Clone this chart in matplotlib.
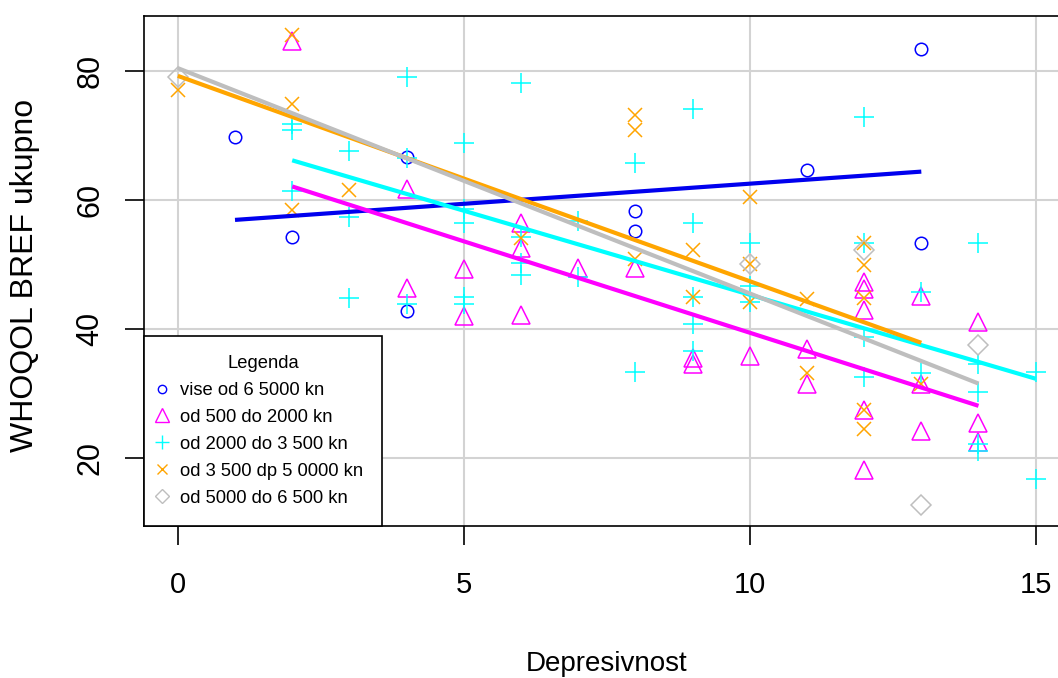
import matplotlib
matplotlib.use("Agg")
import matplotlib.pyplot as plt
from matplotlib.lines import Line2D
import numpy as np

plt.rcParams['font.family'] = ['Liberation Sans', 'DejaVu Sans']

# ---- data ----
groups = ["vise od 6 5000 kn", "od 500 do 2000 kn", "od 2000 do 3 500 kn",
          "od 3 500 dp 5 0000 kn", "od 5000 do 6 500 kn"]

blue_x = [1, 2, 4, 4, 8, 8, 11, 13, 13]
blue_y = [69.8, 54.3, 66.7, 42.8, 58.3, 55.2, 64.7, 83.5, 53.3]

magenta_x = [2, 4, 4, 5, 5, 6, 6, 6, 7, 8, 9, 9, 10, 11, 11, 12, 12, 12, 12, 12,
             13, 13, 13, 14, 14, 14]
magenta_y = [84.7, 61.8, 46.3, 49.3, 42.0, 56.5, 52.6, 42.1, 49.4, 49.4, 35.5, 34.5,
             35.8, 36.8, 31.5, 47.3, 46.2, 42.9, 27.4, 18.0, 45.1, 31.4, 24.2, 41.1,
             25.4, 22.4]

cyan_x = [2, 2, 2, 3, 3, 3, 4, 4, 4, 5, 5, 5, 5, 5, 6, 6, 6, 6, 7, 7, 8, 8, 9, 9, 9,
          9, 9, 10, 10, 10, 12, 12, 12, 12, 13, 13, 14, 14, 14, 14, 14, 15, 15]
cyan_y = [71.9, 70.9, 61.4, 67.6, 57.4, 44.8, 79.2, 66.6, 43.8, 68.8, 58.6, 56.5,
          45.0, 43.8, 78.2, 54.3, 50.2, 48.4, 56.8, 48.1, 65.8, 33.3, 74.1, 56.4,
          45.0, 40.7, 36.6, 53.4, 46.6, 44.2, 72.9, 53.3, 38.8, 32.5, 45.8, 33.2,
          53.3, 34.6, 30.2, 22.1, 21.1, 33.3, 16.6]

orange_x = [0, 2, 2, 2, 3, 6, 8, 8, 8, 9, 9, 10, 10, 10, 11, 11, 12, 12, 12, 12, 12, 13]
orange_y = [77.1, 85.6, 74.9, 58.5, 61.6, 54.1, 73.2, 70.9, 50.9, 52.2, 45.0, 60.5,
            50.1, 44.2, 44.6, 33.1, 53.4, 49.9, 44.8, 27.4, 24.5, 31.5]

gray_x = [0, 10, 12, 13, 14]
gray_y = [79.2, 50.1, 52.2, 12.6, 37.5]

# regression lines per group (intercept, slope)
fit_intercepts = [56.3, 67.8, 71.4, 79.3, 80.5]
fit_slopes = [0.625, -2.84, -2.61, -3.19, -3.5]

x_ticks = [0, 5, 10, 15]
y_ticks = [20, 40, 60, 80]

# ---- styling ----
colors = ['#0000FF', '#FF00FF', '#00FFFF', '#FFA500', '#BEBEBE']
markers = ['o', '^', '+', 'x', 'D']
msizes = [9.0, 12.5, 14.5, 10.0, 10.5]
leg_msizes = [6.0, 10.0, 10.0, 7.5, 7.5]

W, H = 1058, 678
fig = plt.figure(figsize=(W / 100, H / 100), dpi=100)
left, right, top, bottom = 143.5, 1070.0, 16.0, 525.5
ax = fig.add_axes([left / W, 1 - bottom / H, (right - left) / W, (bottom - top) / H])

ax.set_xlim(-0.6, 15.6)
ax.set_ylim(9.45, 88.6)

ax.set_xticks(x_ticks)
ax.set_yticks(y_ticks)
ax.grid(True, color='#D3D3D3', linewidth=1.5)
ax.set_axisbelow(True)

xs = [blue_x, magenta_x, cyan_x, orange_x, gray_x]
ys = [blue_y, magenta_y, cyan_y, orange_y, gray_y]

for x, y, c, m, ms in zip(xs, ys, colors, markers, msizes):
    ax.plot(x, y, linestyle='none', marker=m, markersize=ms, markerfacecolor='none',
            markeredgecolor=c, markeredgewidth=1.1, zorder=3)

line_colors = ['#0000EE', '#FF00FF', '#00FFFF', '#FFA500', '#BEBEBE']
for x, a, b, c in zip(xs, fit_intercepts, fit_slopes, line_colors):
    xr = np.array([min(x), max(x)], dtype=float)
    ax.plot(xr, a + b * xr, color=c, linewidth=3.0, solid_capstyle='butt', zorder=4)

for s in ax.spines.values():
    s.set_linewidth(1.2)
    s.set_color('black')

ax.tick_params(axis='both', direction='out', length=13.5, width=1.2, colors='black')
ax.tick_params(axis='x', labelsize=21, pad=19)
ax.tick_params(axis='y', labelsize=22, pad=14)
for lab in ax.get_yticklabels():
    lab.set_rotation(90)
    lab.set_va('center')

ax.set_xlabel("Depresivnost", fontsize=20)
ax.xaxis.set_label_coords(0.5, -(651 - bottom) / (bottom - top))
ax.set_ylabel("WHOQOL BREF ukupno", fontsize=23)
ax.yaxis.set_label_coords(-(left - 40) / (right - left), (bottom - 275) / (bottom - top))

handles = [Line2D([], [], linestyle='none', marker=m, markersize=ms, markerfacecolor='none',
                  markeredgecolor=c, markeredgewidth=1.0)
           for m, ms, c in zip(markers, leg_msizes, colors)]
leg = ax.legend(handles, groups, title="Legenda", loc='lower left', bbox_to_anchor=(0, 0),
                borderaxespad=0, fontsize=13.2, title_fontsize=13.2, frameon=True,
                fancybox=False, edgecolor='black', framealpha=1, borderpad=1.03,
                handlelength=0.0, handletextpad=0.97, labelspacing=0.54, numpoints=1)
leg.get_frame().set_linewidth(1.2)
leg.set_zorder(10)

fig.savefig("out.png", dpi=100)
